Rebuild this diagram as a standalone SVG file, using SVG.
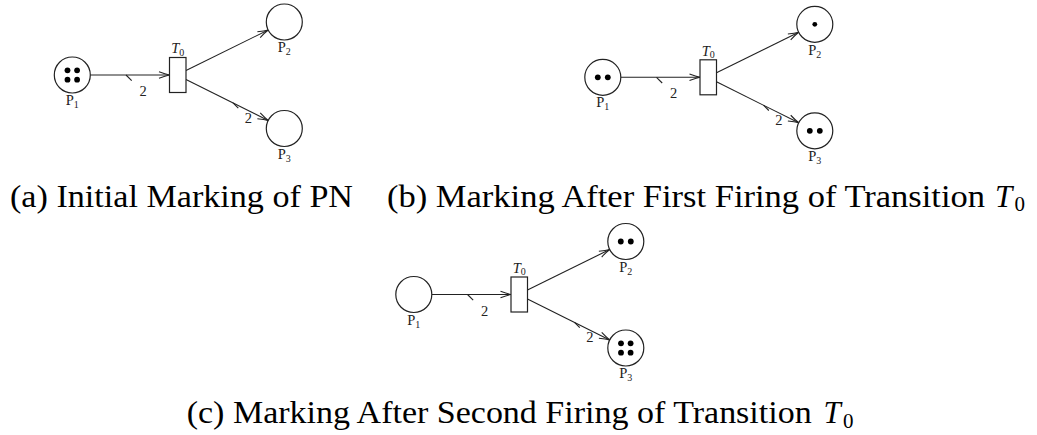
<svg xmlns="http://www.w3.org/2000/svg" width="1037" height="435" viewBox="0 0 1037 435">
<style>
  .place { fill: #fff; stroke: #222; stroke-width: 1.2; }
  .trans { fill: #fff; stroke: #222; stroke-width: 1.2; }
  .tok { fill: #000; }
  .arc { fill: none; stroke: #222; stroke-width: 1.1; marker-end: url(#open); }
  .tick { fill: none; stroke: #222; stroke-width: 1.1; }
  .lbl { font-family: 'Liberation Serif', 'Times New Roman', serif; font-size: 14.5px; fill: #222; }
  .sub { font-size: 10px; }
  .it { font-style: italic; }
  .cap { font-family: 'Liberation Serif', 'Times New Roman', serif; font-size: 31px; fill: #000; }
  .capsub { font-family: 'Liberation Serif', 'Times New Roman', serif; font-size: 21px; fill: #000; }
</style>
<defs>
  <marker id="open" markerUnits="userSpaceOnUse" markerWidth="14" markerHeight="10" refX="11" refY="5" orient="auto" overflow="visible">
    <path d="M 0.5 1.8 Q 7 4.2 11 5 Q 7 5.8 0.5 8.2" fill="none" stroke="#222" stroke-width="1.1"/>
  </marker>
</defs>

<!-- Panel (a) -->
<g id="panel-a">
  <g id="a-arcs">
    <line class="arc" x1="90.3" y1="75" x2="169.5" y2="75"/>
    <line class="tick" x1="126" y1="75" x2="131.7" y2="80.7"/>
    <text class="lbl" x="143" y="96" text-anchor="middle">2</text>
    <line class="arc" x1="186" y1="70.5" x2="268.2" y2="30"/>
    <line class="arc" x1="186" y1="79.5" x2="268.2" y2="120.5"/>
    <line class="tick" x1="233" y1="102.9" x2="238.3" y2="108.2"/>
    <text class="lbl" x="248.3" y="122.7" text-anchor="middle">2</text>
  </g>
  <g id="a-P1">
    <circle class="place" cx="72.3" cy="75" r="18"/>
    <circle class="tok" cx="67.5" cy="70.3" r="2.9"/>
    <circle class="tok" cx="77.1" cy="70.3" r="2.9"/>
    <circle class="tok" cx="67.5" cy="79.7" r="2.9"/>
    <circle class="tok" cx="77.1" cy="79.7" r="2.9"/>
    <text class="lbl" x="72.3" y="105" text-anchor="middle">P<tspan class="sub" dy="3">1</tspan></text>
  </g>
  <g id="a-T0">
    <rect class="trans" x="169.5" y="57.5" width="16.5" height="35"/>
    <text class="lbl" x="177.8" y="53.3" text-anchor="middle"><tspan class="it">T</tspan><tspan class="sub" dy="2.5">0</tspan></text>
  </g>
  <g id="a-P2">
    <circle class="place" cx="284.3" cy="22" r="18"/>
    <text class="lbl" x="284.3" y="52.3" text-anchor="middle">P<tspan class="sub" dy="3">2</tspan></text>
  </g>
  <g id="a-P3">
    <circle class="place" cx="284.3" cy="128.5" r="18"/>
    <text class="lbl" x="284.3" y="158.5" text-anchor="middle">P<tspan class="sub" dy="3">3</tspan></text>
  </g>
</g>

<!-- Panel (b) -->
<g id="panel-b" transform="translate(530.5,2.3)">
  <g id="b-arcs">
    <line class="arc" x1="90.3" y1="75" x2="169.5" y2="75"/>
    <line class="tick" x1="126" y1="75" x2="131.7" y2="80.7"/>
    <text class="lbl" x="143" y="96" text-anchor="middle">2</text>
    <line class="arc" x1="186" y1="70.5" x2="268.2" y2="30"/>
    <line class="arc" x1="186" y1="79.5" x2="268.2" y2="120.5"/>
    <line class="tick" x1="233" y1="102.9" x2="238.3" y2="108.2"/>
    <text class="lbl" x="248.3" y="122.7" text-anchor="middle">2</text>
  </g>
  <g id="b-P1">
    <circle class="place" cx="72.3" cy="75" r="18"/>
    <circle class="tok" cx="67.3" cy="75" r="2.9"/>
    <circle class="tok" cx="77.3" cy="75" r="2.9"/>
    <text class="lbl" x="72.3" y="105" text-anchor="middle">P<tspan class="sub" dy="3">1</tspan></text>
  </g>
  <g id="b-T0">
    <rect class="trans" x="169.5" y="57.5" width="16.5" height="35"/>
    <text class="lbl" x="177.8" y="53.3" text-anchor="middle"><tspan class="it">T</tspan><tspan class="sub" dy="2.5">0</tspan></text>
  </g>
  <g id="b-P2">
    <circle class="place" cx="284.3" cy="22" r="18"/>
    <circle class="tok" cx="284.3" cy="22" r="2.4"/>
    <text class="lbl" x="284.3" y="52.3" text-anchor="middle">P<tspan class="sub" dy="3">2</tspan></text>
  </g>
  <g id="b-P3">
    <circle class="place" cx="284.3" cy="128.5" r="18"/>
    <circle class="tok" cx="279.3" cy="128.5" r="2.9"/>
    <circle class="tok" cx="289.3" cy="128.5" r="2.9"/>
    <text class="lbl" x="284.3" y="158.5" text-anchor="middle">P<tspan class="sub" dy="3">3</tspan></text>
  </g>
</g>

<!-- Panel (c) -->
<g id="panel-c" transform="translate(341.5,219.5)">
  <g id="c-arcs">
    <line class="arc" x1="90.3" y1="75" x2="169.5" y2="75"/>
    <line class="tick" x1="126" y1="75" x2="131.7" y2="80.7"/>
    <text class="lbl" x="143" y="96" text-anchor="middle">2</text>
    <line class="arc" x1="186" y1="70.5" x2="268.2" y2="30"/>
    <line class="arc" x1="186" y1="79.5" x2="268.2" y2="120.5"/>
    <line class="tick" x1="233" y1="102.9" x2="238.3" y2="108.2"/>
    <text class="lbl" x="248.3" y="122.7" text-anchor="middle">2</text>
  </g>
  <g id="c-P1">
    <circle class="place" cx="72.3" cy="75" r="18"/>
    <text class="lbl" x="72.3" y="105" text-anchor="middle">P<tspan class="sub" dy="3">1</tspan></text>
  </g>
  <g id="c-T0">
    <rect class="trans" x="169.5" y="57.5" width="16.5" height="35"/>
    <text class="lbl" x="177.8" y="53.3" text-anchor="middle"><tspan class="it">T</tspan><tspan class="sub" dy="2.5">0</tspan></text>
  </g>
  <g id="c-P2">
    <circle class="place" cx="284.3" cy="22" r="18"/>
    <circle class="tok" cx="279.3" cy="22" r="2.9"/>
    <circle class="tok" cx="289.3" cy="22" r="2.9"/>
    <text class="lbl" x="284.3" y="52.3" text-anchor="middle">P<tspan class="sub" dy="3">2</tspan></text>
  </g>
  <g id="c-P3">
    <circle class="place" cx="284.3" cy="128.5" r="18"/>
    <circle class="tok" cx="279.5" cy="123.8" r="2.9"/>
    <circle class="tok" cx="289.1" cy="123.8" r="2.9"/>
    <circle class="tok" cx="279.5" cy="133.2" r="2.9"/>
    <circle class="tok" cx="289.1" cy="133.2" r="2.9"/>
    <text class="lbl" x="284.3" y="158.5" text-anchor="middle">P<tspan class="sub" dy="3">3</tspan></text>
  </g>
</g>

<!-- Captions -->
<g id="captions">
  <text class="cap" x="10" y="206.7" textLength="343" lengthAdjust="spacingAndGlyphs">(a) Initial Marking of PN</text>
  <text class="cap" x="387" y="206.7" textLength="598" lengthAdjust="spacingAndGlyphs">(b) Marking After First Firing of Transition</text>
  <text class="cap it" x="995" y="206.7">T</text>
  <text class="capsub" x="1014.5" y="211">0</text>
  <text class="cap" x="186.7" y="423.3" textLength="625" lengthAdjust="spacingAndGlyphs">(c) Marking After Second Firing of Transition</text>
  <text class="cap it" x="823.5" y="423.3">T</text>
  <text class="capsub" x="843" y="427.6">0</text>
</g>
</svg>
